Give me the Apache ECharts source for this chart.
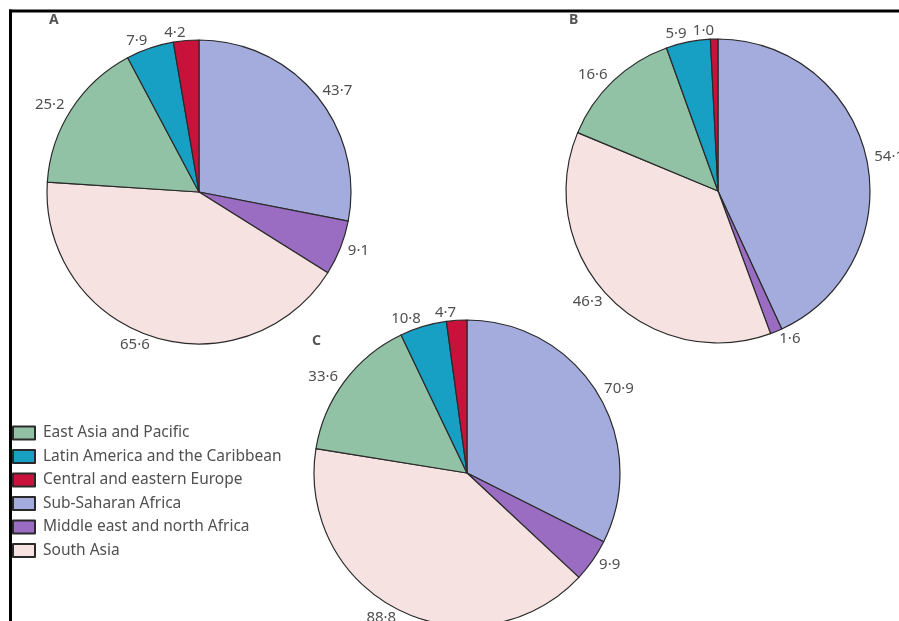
<!DOCTYPE html>
<html>
<head>
<meta charset="utf-8">
<script src="https://cdn.jsdelivr.net/npm/echarts@6/dist/echarts.min.js"></script>
<style>
  html, body { margin: 0; padding: 0; background: #fff; }
  #chart { width: 899px; height: 621px; }
</style>
</head>
<body>
<div id="chart"></div>
<script>
// Regions, listed in the clockwise slice order starting at 12 o'clock
const regions = [
  'Sub-Saharan Africa',
  'Middle east and north Africa',
  'South Asia',
  'East Asia and Pacific',
  'Latin America and the Caribbean',
  'Central and eastern Europe'
];
// Legend reading order
const legendOrder = [
  'East Asia and Pacific',
  'Latin America and the Caribbean',
  'Central and eastern Europe',
  'Sub-Saharan Africa',
  'Middle east and north Africa',
  'South Asia'
];
const regionColors = ['#a3acdc', '#9a6cc2', '#f6e3e1', '#92c2a5', '#17a0c4', '#c8123c'];

// Panel values, same order as regions
const valuesA = [43.7, 9.1, 65.6, 25.2, 7.9, 4.2];
const valuesB = [54.1, 1.6, 46.3, 16.6, 5.9, 1.0];
const valuesC = [70.9, 9.9, 88.8, 33.6, 10.8, 4.7];

const panelLetters = ['A', 'B', 'C'];

const textColor = '#505050';
const fontFamily = '"Noto Sans", "Open Sans", sans-serif';

function fmt(v) {
  return v.toFixed(1).replace('.', '\u00b7');
}

function pieSeries(values, center, radius) {
  return {
    type: 'pie',
    center: center,
    radius: radius,
    startAngle: 90,
    clockwise: true,
    avoidLabelOverlap: false,
    silent: true,
    animation: false,
    data: regions.map((name, i) => ({
      name: name,
      value: values[i],
      itemStyle: { color: regionColors[i] }
    })),
    itemStyle: { borderColor: '#2a2a2a', borderWidth: 1.2 },
    label: {
      show: true,
      position: 'outside',
      formatter: p => fmt(p.value),
      color: textColor,
      fontSize: 15,
      fontFamily: fontFamily,
      distanceToLabelLine: 0
    },
    labelLine: { show: false, length: 8, length2: 0 },
    emphasis: { disabled: true }
  };
}

const chart = echarts.init(document.getElementById('chart'), null, { renderer: 'canvas' });

const letterFont = 'bold 14px "Noto Sans", sans-serif';

chart.setOption({
  backgroundColor: '#ffffff',
  animation: false,
  legend: {
    orient: 'vertical',
    left: 7,
    top: 420,
    data: legendOrder,
    icon: 'rect',
    itemWidth: 22,
    itemHeight: 13,
    itemGap: 7.5,
    selectedMode: false,
    textStyle: { color: textColor, fontSize: 15.5, fontFamily: fontFamily, padding: [0, 0, 0, 3] }
  },
  graphic: [
    // frame: top and left rules
    { type: 'line', shape: { x1: 9, y1: 11, x2: 899, y2: 11 }, style: { stroke: '#000', lineWidth: 3 } },
    { type: 'line', shape: { x1: 10.5, y1: 9.5, x2: 10.5, y2: 621 }, style: { stroke: '#000', lineWidth: 3 } },
    // panel letters
    { type: 'text', left: 49, top: 13, style: { text: panelLetters[0], fill: '#555', font: letterFont } },
    { type: 'text', left: 569, top: 13, style: { text: panelLetters[1], fill: '#555', font: letterFont } },
    { type: 'text', left: 312, top: 334, style: { text: panelLetters[2], fill: '#555', font: letterFont } }
  ],
  series: [
    pieSeries(valuesA, [199, 192], 152),
    pieSeries(valuesB, [718, 191], 152),
    pieSeries(valuesC, [467, 473], 153)
  ]
});
</script>
</body>
</html>
